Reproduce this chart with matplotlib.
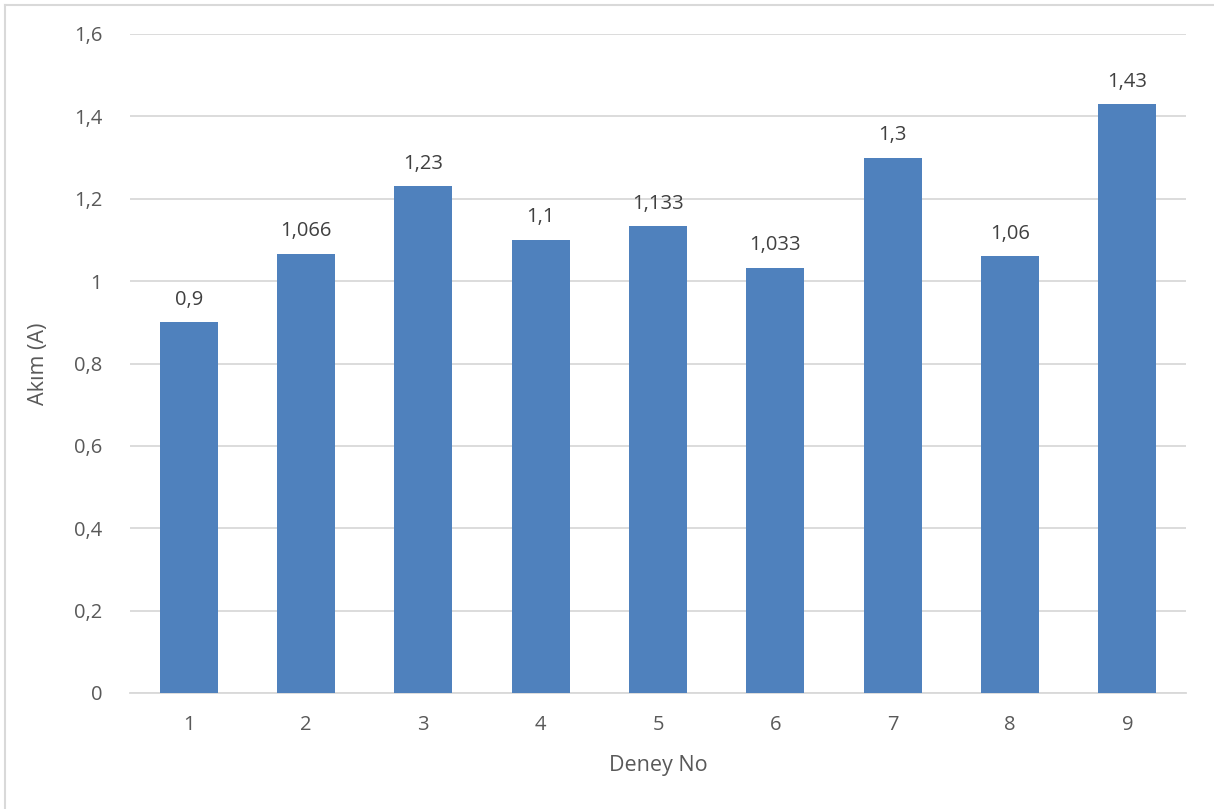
import matplotlib.pyplot as plt
from matplotlib.lines import Line2D

deney_no = ['1', '2', '3', '4', '5', '6', '7', '8', '9']
akim = [0.9, 1.066, 1.23, 1.1, 1.133, 1.033, 1.3, 1.06, 1.43]
y_ticks = [0, 0.2, 0.4, 0.6, 0.8, 1.0, 1.2, 1.4, 1.6]

plt.rcParams['font.family'] = ['Open Sans', 'DejaVu Sans']
text_col = '#595959'
bar_col = '#4F81BD'
grid_col = '#D9D9D9'


def tr_num(v):
    # Turkish decimal comma, trailing zeros dropped
    s = ('%.3f' % v).rstrip('0').rstrip('.')
    return s.replace('.', ',')


W, H = 1214, 809
fig = plt.figure(figsize=(W / 100, H / 100), dpi=100)
ax = fig.add_axes([130 / W, 1 - 693 / H, (1186 - 130) / W, (693 - 34) / H])

x = list(range(1, len(akim) + 1))
bars = ax.bar(x, akim, width=0.495, color=bar_col, zorder=3)

for xi, v in zip(x, akim):
    ax.annotate(tr_num(v), (xi, v), xytext=(0, 9), textcoords='offset points',
                ha='center', va='bottom', fontsize=14.5, color='#404040')

ax.set_xlim(0.5, len(akim) + 0.5)
ax.set_ylim(0, 1.6)
ax.set_yticks(y_ticks)
ax.set_yticklabels([tr_num(t) for t in y_ticks])
ax.set_xticks(x)
ax.set_xticklabels(deney_no)
ax.tick_params(length=0, labelsize=14.5, colors=text_col)
ax.tick_params(axis='y', pad=20)
ax.tick_params(axis='x', pad=16)

ax.yaxis.grid(True, color=grid_col, linewidth=1.3, zorder=0)
for s in ['top', 'right', 'left']:
    ax.spines[s].set_visible(False)
ax.spines['bottom'].set_color(grid_col)
ax.spines['bottom'].set_linewidth(1.3)

ax.set_ylabel('Akım (A)', fontsize=15.5, color=text_col, labelpad=18)
ax.set_xlabel('Deney No', fontsize=15.5, color=text_col, labelpad=14)

# chart area frame (left and top edges)
fig.add_artist(Line2D([4.5 / W, 4.5 / W], [0, 1 - 4.5 / H], color=grid_col,
                      linewidth=1.5, transform=fig.transFigure))
fig.add_artist(Line2D([4.5 / W, 1], [1 - 4.5 / H, 1 - 4.5 / H], color=grid_col,
                      linewidth=1.5, transform=fig.transFigure))

fig.savefig('out.png', dpi=100)
